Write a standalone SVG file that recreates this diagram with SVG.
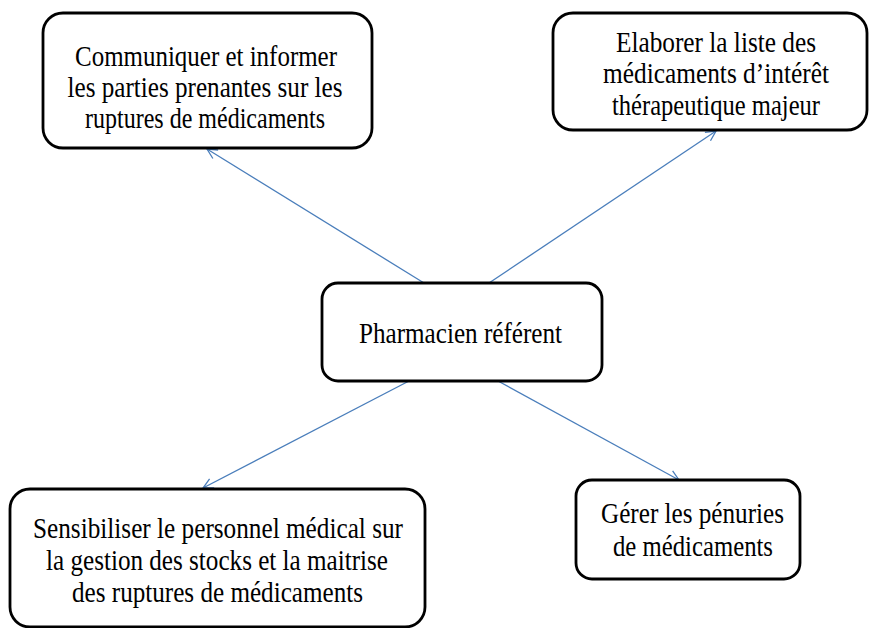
<svg xmlns="http://www.w3.org/2000/svg" width="869" height="628" viewBox="0 0 869 628">
<style>
.box{fill:#fff;stroke:#000;stroke-width:2.8}
.t{font-family:"Liberation Serif","Times New Roman",serif;font-size:30px;fill:#000;text-anchor:middle}
.c{stroke:#4a7ebb;stroke-width:1.3;fill:none}
</style>
<defs>
<marker id="arr" markerUnits="userSpaceOnUse" markerWidth="14" markerHeight="14" refX="11" refY="6" orient="auto" viewBox="0 0 14 12">
<path d="M1,1 L11,6 L1,11" fill="none" stroke="#4a7ebb" stroke-width="1.3"/>
</marker>
</defs>
<rect width="869" height="628" fill="#fff"/>
<g id="connectors">
<line class="c" x1="424" y1="283" x2="207" y2="149" marker-end="url(#arr)"/>
<line class="c" x1="489" y1="283" x2="716" y2="131" marker-end="url(#arr)"/>
<line class="c" x1="409" y1="381" x2="203" y2="488" marker-end="url(#arr)"/>
<line class="c" x1="498" y1="381" x2="679" y2="480" marker-end="url(#arr)"/>
</g>
<g id="node-communiquer">
<rect class="box" x="43" y="13" width="329" height="135" rx="20"/>
<text class="t" x="206" y="66" textLength="262" lengthAdjust="spacingAndGlyphs">Communiquer et informer</text>
<text class="t" x="205" y="97" textLength="275" lengthAdjust="spacingAndGlyphs">les parties prenantes sur les</text>
<text class="t" x="205" y="128" textLength="240" lengthAdjust="spacingAndGlyphs">ruptures de médicaments</text>
</g>
<g id="node-elaborer">
<rect class="box" x="553" y="13" width="314" height="117" rx="20"/>
<text class="t" x="716" y="52" textLength="200" lengthAdjust="spacingAndGlyphs">Elaborer la liste des</text>
<text class="t" x="716" y="83" textLength="226" lengthAdjust="spacingAndGlyphs">médicaments d’intérêt</text>
<text class="t" x="716" y="115" textLength="208" lengthAdjust="spacingAndGlyphs">thérapeutique majeur</text>
</g>
<g id="node-pharmacien">
<rect class="box" x="322" y="283" width="280" height="98" rx="16"/>
<text class="t" x="460.5" y="343" textLength="203" lengthAdjust="spacingAndGlyphs">Pharmacien référent</text>
</g>
<g id="node-sensibiliser">
<rect class="box" x="10" y="489" width="415" height="138" rx="20"/>
<text class="t" x="218" y="538" textLength="370" lengthAdjust="spacingAndGlyphs">Sensibiliser le personnel médical sur</text>
<text class="t" x="217" y="570" textLength="342" lengthAdjust="spacingAndGlyphs">la gestion des stocks et la maitrise</text>
<text class="t" x="217.5" y="602" textLength="291" lengthAdjust="spacingAndGlyphs">des ruptures de médicaments</text>
</g>
<g id="node-gerer">
<rect class="box" x="576" y="480" width="224" height="99" rx="16"/>
<text class="t" x="692.5" y="523" textLength="183" lengthAdjust="spacingAndGlyphs">Gérer les pénuries</text>
<text class="t" x="693" y="556" textLength="160" lengthAdjust="spacingAndGlyphs">de médicaments</text>
</g>
</svg>
